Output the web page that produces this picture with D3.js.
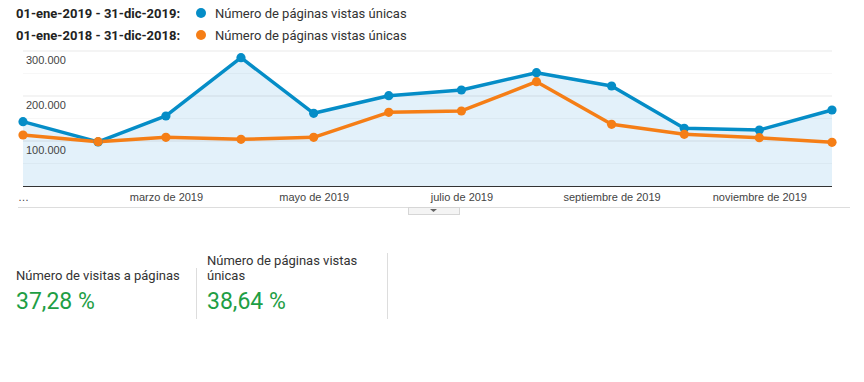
<!DOCTYPE html>
<html><head><meta charset="utf-8">
<script src="https://cdn.jsdelivr.net/npm/d3@7"></script>
<style>
html,body{margin:0;padding:0;background:#fff;}
svg{display:block;font-family:Roboto,"Noto Sans",Arial,sans-serif;}
</style></head>
<body><svg id="c" width="864" height="382"></svg>
<script>
const months = ["2019-01-01","2019-02-01","2019-03-01","2019-04-01","2019-05-01","2019-06-01","2019-07-01","2019-08-01","2019-09-01","2019-10-01","2019-11-01","2019-12-01"];
const series2019 = [143000, 98000, 155600, 285100, 161500, 200700, 213300, 251800, 222200, 128200, 124400, 168900];
const series2018 = [113300, 98400, 108200, 103800, 108200, 163800, 166700, 231800, 137100, 114900, 107300, 97100];
const xTickLabels = ["…", "", "marzo de 2019", "", "mayo de 2019", "", "julio de 2019", "", "septiembre de 2019", "", "noviembre de 2019", ""];
const yMajorTicks = [100000, 200000, 300000];
const yMinorTicks = [50000, 150000, 250000];
const legendRanges = ["01-ene-2019 - 31-dic-2019:", "01-ene-2018 - 31-dic-2018:"];
const legendMetric = "Número de páginas vistas únicas";
const statLabels = [["Número de visitas a páginas"], ["Número de páginas vistas", "únicas"]];
const statValues = ["37,28 %", "38,64 %"];

const BLUE = "#058dc7", ORANGE = "#f57e16";
const AXISFONT = "Arial,'Liberation Sans',sans-serif";
const svg = d3.select("#c");
const parse = d3.utcParse("%Y-%m-%d");
const dates = months.map(parse);

// Legend
const legendColors = [BLUE, ORANGE];
legendRanges.forEach((r, i) => {
  const yy = 13 + i * 22;
  svg.append("text").attr("x", 16).attr("y", yy).attr("dy", "0.35em")
    .attr("font-size", 13).attr("font-weight", "bold").attr("fill", "#222").text(r);
  svg.append("circle").attr("cx", 201).attr("cy", yy).attr("r", 5).attr("fill", legendColors[i]);
  svg.append("text").attr("x", 215).attr("y", yy).attr("dy", "0.35em")
    .attr("font-size", 13).attr("fill", "#333").text(legendMetric);
});

// Scales
const x = d3.scaleUtc().domain([dates[0], dates[11]]).range([23, 832]);
const y = d3.scaleLinear().domain([0, 300000]).range([186, 51]);

// Area under 2019
const area = d3.area().x((d, i) => x(dates[i])).y0(y(0)).y1(d => y(d));
svg.append("path").datum(series2019).attr("d", area).attr("fill", "#e3f1fa");

// Gridlines
svg.append("g").selectAll("line").data(yMinorTicks).join("line")
  .attr("x1", 23).attr("x2", 832).attr("y1", d => y(d)).attr("y2", d => y(d))
  .attr("stroke", "#000").attr("stroke-opacity", 0.03).attr("stroke-width", 1);
svg.append("g").selectAll("line").data(yMajorTicks).join("line")
  .attr("x1", 23).attr("x2", 832).attr("y1", d => y(d)).attr("y2", d => y(d))
  .attr("stroke", "#000").attr("stroke-opacity", 0.09).attr("stroke-width", 1);

// Y labels
svg.append("g").selectAll("text").data(yMajorTicks).join("text")
  .attr("x", 26).attr("y", d => y(d) + 9.5).attr("dy", "0.35em")
  .attr("font-size", 11).attr("font-family", AXISFONT).attr("fill", "#444")
  .text(d => d3.format(",")(d).replace(/,/g, "."));

// Lines
const line = d3.line().x((d, i) => x(dates[i])).y(d => y(d));
[[series2019, BLUE], [series2018, ORANGE]].forEach(([s, c]) => {
  svg.append("path").datum(s).attr("d", line).attr("fill", "none")
    .attr("stroke", c).attr("stroke-width", 3.5).attr("stroke-linejoin", "round");
});
[[series2019, BLUE], [series2018, ORANGE]].forEach(([s, c]) => {
  svg.append("g").selectAll("circle").data(s).join("circle")
    .attr("cx", (d, i) => x(dates[i])).attr("cy", d => y(d)).attr("r", 4.6).attr("fill", c);
});

// Bottom axis
svg.append("line").attr("x1", 23).attr("x2", 832).attr("y1", 186.5).attr("y2", 186.5)
  .attr("stroke", "#333").attr("stroke-width", 1);
const xAxis = d3.axisBottom(x).tickValues(dates).tickSize(0)
  .tickFormat((d, i) => xTickLabels[i]);
const gx = svg.append("g").attr("transform", "translate(0,187)").call(xAxis);
gx.select(".domain").remove();
gx.selectAll("text").attr("font-size", 11).attr("fill", "#444")
  .attr("font-family", AXISFONT).attr("dy", "0.35em").attr("y", 10.5);

// Separator + toggle button
svg.append("line").attr("x1", 18).attr("x2", 850).attr("y1", 207.5).attr("y2", 207.5)
  .attr("stroke", "#ddd");
svg.append("rect").attr("x", 408.5).attr("y", 207.5).attr("width", 51).attr("height", 7)
  .attr("fill", "#f4f4f4").attr("stroke", "#d6d6d6");
svg.append("path").attr("d", "M430,209 L437,209 L433.5,212 Z").attr("fill", "#666");

// Stats
const statX = [16, 207];
statLabels.forEach((lines, i) => {
  const n = lines.length;
  lines.forEach((t, j) => {
    svg.append("text").attr("x", statX[i]).attr("y", 275 - (n - 1 - j) * 14.5).attr("dy", "0.35em")
      .attr("font-size", 13).attr("fill", "#333").text(t);
  });
  svg.append("text").attr("x", statX[i]).attr("y", 300.5).attr("dy", "0.35em")
    .attr("font-size", 23).attr("fill", "#1e9e45").text(statValues[i]);
});
svg.append("line").attr("x1", 196.5).attr("x2", 196.5).attr("y1", 268).attr("y2", 319).attr("stroke", "#ddd");
svg.append("line").attr("x1", 387.5).attr("x2", 387.5).attr("y1", 253).attr("y2", 319).attr("stroke", "#ddd");
</script></body></html>
